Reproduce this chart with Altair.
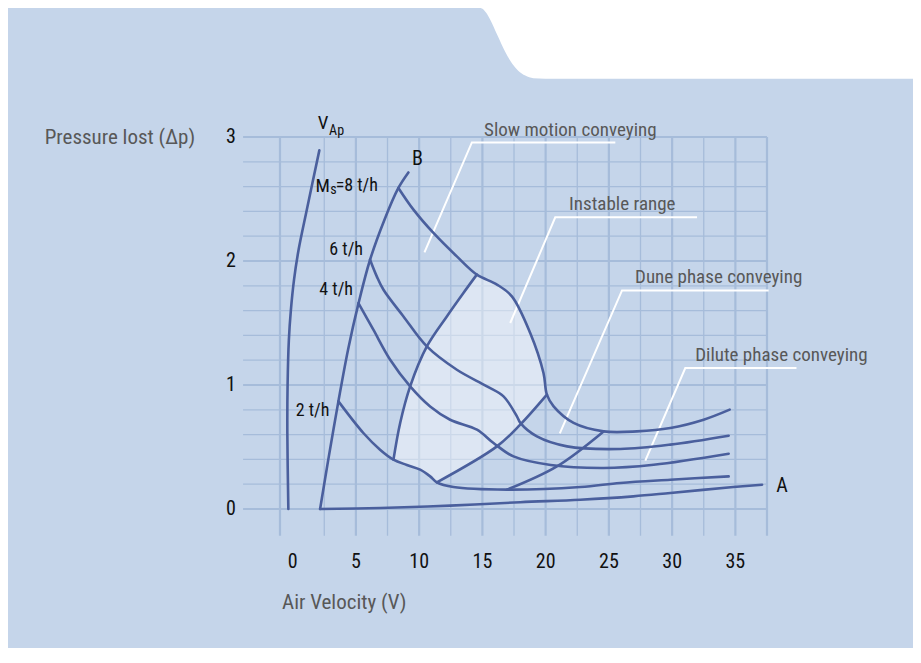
import altair as alt
import pandas as pd

# ---------------- data ----------------
x_tick_values = [0, 5, 10, 15, 20, 25, 30, 35]
y_tick_values = [0, 1, 2, 3]

grid_x_major = [-1, 5, 10, 15, 20, 25, 30, 35, 37.5]
grid_x_minor = [2.5, 7.5, 12.5, 17.5, 22.5, 27.5, 32.5]
grid_y_major = [0, 1, 2, 3]
grid_y_minor = [0.2, 0.4, 0.6, 0.8, 1.2, 1.4, 1.6, 1.8, 2.2, 2.4, 2.6, 2.8]

# V_Ap curve
vap_x = [-0.34, -0.42, -0.40, -0.30, -0.14, 0.11, 0.47, 1.12, 2.11]
vap_y = [0.0, 0.613, 1.0, 1.362, 1.604, 1.850, 2.091, 2.414, 2.892]
# boundary line B
lineB_x = [2.17, 2.82, 3.62, 4.38, 5.20, 6.12, 7.26, 8.36, 9.15]
lineB_y = [0.0, 0.40, 0.87, 1.285, 1.656, 2.01, 2.333, 2.589, 2.714]
# line A (empty pipe)
lineA_x = [2.17, 6.93, 12.45, 18.0, 22.74, 26.93, 29.86, 34.84, 37.11]
lineA_y = [0.0, 0.008, 0.027, 0.055, 0.075, 0.102, 0.129, 0.177, 0.196]
# material flow curves
ms8_x = [8.36, 9.55, 11.13, 12.98, 14.56, 16.15, 17.33, 18.78, 19.83, 20.10, 20.63, 22.21, 24.58, 27.22, 29.86, 32.49, 34.55]
ms8_y = [2.589, 2.414, 2.226, 2.037, 1.890, 1.810, 1.715, 1.419, 1.097, 0.922, 0.827, 0.694, 0.626, 0.626, 0.653, 0.720, 0.801]
ms6_x = [6.12, 6.65, 7.18, 8.76, 10.61, 12.98, 15.36, 16.67, 17.73, 18.0, 19.31, 21.69, 25.9, 29.86, 34.47]
ms6_y = [2.010, 1.876, 1.768, 1.553, 1.311, 1.123, 0.989, 0.908, 0.747, 0.694, 0.585, 0.505, 0.484, 0.519, 0.591]
ms4_x = [5.20, 6.38, 7.71, 9.29, 10.87, 12.45, 14.57, 15.88, 17.46, 20.4, 24.58, 28.54, 34.47]
ms4_y = [1.661, 1.446, 1.204, 0.989, 0.827, 0.720, 0.640, 0.532, 0.424, 0.355, 0.331, 0.357, 0.446]
ms2_x = [3.62, 5.59, 6.91, 7.97, 9.03, 10.08, 10.87, 11.40, 12.71, 16.94, 22.74, 25.9, 29.86, 34.47]
ms2_y = [0.868, 0.613, 0.478, 0.398, 0.355, 0.317, 0.263, 0.215, 0.177, 0.156, 0.177, 0.210, 0.236, 0.263]
# boundaries of the conveying regions
L1_x = [7.97, 8.50, 9.29, 10.61, 12.19, 13.50, 14.56]
L1_y = [0.398, 0.694, 0.989, 1.311, 1.553, 1.742, 1.890]
R2_x = [11.40, 16.15, 17.99, 20.10]
R2_y = [0.215, 0.505, 0.680, 0.922]
R3_x = [16.94, 20.89, 24.58]
R3_y = [0.156, 0.344, 0.626]

# white leader lines: tip -> corner -> end
ann_names = ["slow", "instable", "dune", "dilute"]
ann_tip_x = [10.42, 17.2, 21.12, 27.88]
ann_tip_y = [2.069, 1.5, 0.61, 0.39]
ann_corner_x = [14.17, 20.76, 26.04, 31.04]
ann_corner_y = [2.956, 2.352, 1.763, 1.137]
ann_end_x = [25.51, 31.97, 37.63, 39.83]

region_labels = ["Slow motion conveying", "Instable range", "Dune phase conveying", "Dilute phase conveying"]
region_label_x = [21.95, 26.06, 33.68, 38.64]
region_label_y = [3.06, 2.46, 1.87, 1.245]

curve_labels = ["B", "A"]
curve_label_x = [9.87, 38.69]
curve_label_y = [2.823, 0.182]

rate_labels = ["=8 t/h", "6 t/h", "4 t/h", "2 t/h"]
rate_label_x = [3.40, 2.90, 2.11, 0.245]
rate_label_y = [2.607, 2.091, 1.768, 0.787]

main_symbols = ["V", "M"]
main_symbol_x = [2.82, 2.95]          # right edge of the main letter
main_symbol_y = [3.115, 2.607]
sub_symbols = ["Ap", "s"]
sub_symbol_x = [2.88, 2.98]           # left edge of the subscript
sub_symbol_y = [3.05, 2.57]

axis_titles = ["Air Velocity (V)", "Pressure lost (\u0394p)"]
axis_title_x = [-0.84, -19.6]
axis_title_y = [-0.756, 2.99]

# white notch of the background panel (top right)
notch_x = [14.51, 14.91, 15.30, 15.62, 16.17, 16.80, 17.36, 17.83, 18.39, 19.02, 19.97, 50.0]
notch_y = [4.043, 4.039, 4.002, 3.946, 3.825, 3.688, 3.591, 3.535, 3.495, 3.474, 3.470, 3.470]

# ---------------- styling ----------------
FONT = ("'Roboto Condensed', 'Noto Sans Condensed', 'Liberation Sans Narrow', "
        "'Open Sans Condensed', 'DejaVu Sans Condensed', Roboto, sans-serif")
PANEL = "#c5d5ea"
CURVE = "#4a5f9d"
GRID = "#a6bcda"
GRAY_TEXT = "#585858"
BLACK = "#111111"

xs = alt.Scale(domain=[-1, 37.5], nice=False, zero=False)
ys = alt.Scale(domain=[0, 3], nice=False, zero=False)


def X(field="x"):
    return alt.X(f"{field}:Q", scale=xs, axis=None)


def Y(field="y"):
    return alt.Y(f"{field}:Q", scale=ys, axis=None)


def frame(name, xv, yv):
    return pd.DataFrame({"curve": name, "i": list(range(len(xv))), "x": xv, "y": yv})


def text_layer(labels, xv, yv, size, color, align):
    df = pd.DataFrame({"t": labels, "x": xv, "y": yv})
    return alt.Chart(df).mark_text(font=FONT, fontSize=size, color=color, align=align,
                                   baseline="middle", clip=False).encode(x=X(), y=Y(), text="t:N")


# notch
notch_df = pd.DataFrame({"x": notch_x, "y": notch_y, "top": 4.3})
notch = alt.Chart(notch_df).mark_area(color="white", clip=False, interpolate="monotone").encode(
    x=X(), y=Y(), y2="top:Q")

# grid
vgrid_major = pd.DataFrame({"x": grid_x_major, "lo": -0.215, "hi": 3.0})
vgrid_minor = pd.DataFrame({"x": grid_x_minor, "lo": -0.215, "hi": 3.0})
hgrid_major = pd.DataFrame({"y": grid_y_major, "lo": -3.92, "hi": 37.5})
hgrid_minor = pd.DataFrame({"y": grid_y_minor, "lo": -3.92, "hi": 37.5})

vg_min = alt.Chart(vgrid_minor).mark_rule(color=GRID, strokeWidth=1.3, clip=False).encode(
    x=X(), y=Y("lo"), y2="hi:Q")
vg_maj = alt.Chart(vgrid_major).mark_rule(color=GRID, strokeWidth=2.2, clip=False).encode(
    x=X(), y=Y("lo"), y2="hi:Q")
hg_min = alt.Chart(hgrid_minor).mark_rule(color=GRID, strokeWidth=1.3, clip=False).encode(
    y=Y(), x=X("lo"), x2="hi:Q")
hg_maj = alt.Chart(hgrid_major).mark_rule(color=GRID, strokeWidth=2.2, clip=False).encode(
    y=Y(), x=X("lo"), x2="hi:Q")

# instable region fill (polygon built from the read boundaries)
poly = list(zip(L1_x, L1_y))
poly += [(a, b) for a, b in zip(ms8_x, ms8_y) if 14.56 < a <= 20.10]
r2 = list(zip(R2_x, R2_y))[::-1]
poly += r2[1:]
poly += [(a, b) for a, b in list(zip(ms2_x, ms2_y))[::-1] if 7.97 < a < 11.40]
poly.append(poly[0])
poly_df = pd.DataFrame({"i": list(range(len(poly))), "x": [p[0] for p in poly], "y": [p[1] for p in poly]})
instable = alt.Chart(poly_df).mark_line(fill="white", fillOpacity=0.42, stroke="transparent",
                                        interpolate="linear", clip=False).encode(
    x=X(), y=Y(), order="i:Q")

# white leader lines
ann_rows = []
for n, tx, ty, cx, cy, ex in zip(ann_names, ann_tip_x, ann_tip_y, ann_corner_x, ann_corner_y, ann_end_x):
    ann_rows += [(n, 0, tx, ty), (n, 1, cx, cy), (n, 2, ex, cy)]
ann_df = pd.DataFrame(ann_rows, columns=["curve", "i", "x", "y"])
leaders = alt.Chart(ann_df).mark_line(color="white", strokeWidth=2, clip=False).encode(
    x=X(), y=Y(), detail="curve:N", order="i:Q")

# curves
curves_df = pd.concat([
    frame("vap", vap_x, vap_y), frame("B", lineB_x, lineB_y), frame("A", lineA_x, lineA_y),
    frame("m8", ms8_x, ms8_y), frame("m6", ms6_x, ms6_y), frame("m4", ms4_x, ms4_y),
    frame("m2", ms2_x, ms2_y), frame("L1", L1_x, L1_y), frame("R2", R2_x, R2_y),
    frame("R3", R3_x, R3_y)], ignore_index=True)
curves = alt.Chart(curves_df).mark_line(color=CURVE, strokeWidth=2.6, interpolate="catmull-rom",
                                        clip=False, strokeCap="round").encode(
    x=X(), y=Y(), detail="curve:N", order="i:Q")

# texts
reg_text = text_layer(region_labels, region_label_x, region_label_y, 19, GRAY_TEXT, "center")
cl_text = text_layer(curve_labels, curve_label_x, curve_label_y, 20, BLACK, "center")
rate_text = text_layer(rate_labels, rate_label_x, rate_label_y, 18, BLACK, "left")
sym_text = text_layer(main_symbols, main_symbol_x, main_symbol_y, 19, BLACK, "right")
sub_text = text_layer(sub_symbols, sub_symbol_x, sub_symbol_y, 14, BLACK, "left")
xtick_text = text_layer([str(v) for v in x_tick_values], x_tick_values,
                        [-0.425] * len(x_tick_values), 20, BLACK, "center")
ytick_text = text_layer([str(v) for v in y_tick_values], [-4.48] * len(y_tick_values),
                        y_tick_values, 20, BLACK, "right")
title_text = text_layer(axis_titles, axis_title_x, axis_title_y, 21, GRAY_TEXT, "left")

chart = alt.layer(
    notch, vg_min, hg_min, vg_maj, hg_maj, instable, leaders, curves,
    reg_text, cl_text, rate_text, sym_text, sub_text, xtick_text, ytick_text, title_text
).properties(
    width=487, height=372,
    autosize=alt.AutoSizeParams(type="none"),
    padding={"left": 272, "top": 129, "right": 146, "bottom": 139},
    background=PANEL,
).configure_view(stroke="transparent")

chart.save("out.html", embed_options={"renderer": "svg", "actions": False})
